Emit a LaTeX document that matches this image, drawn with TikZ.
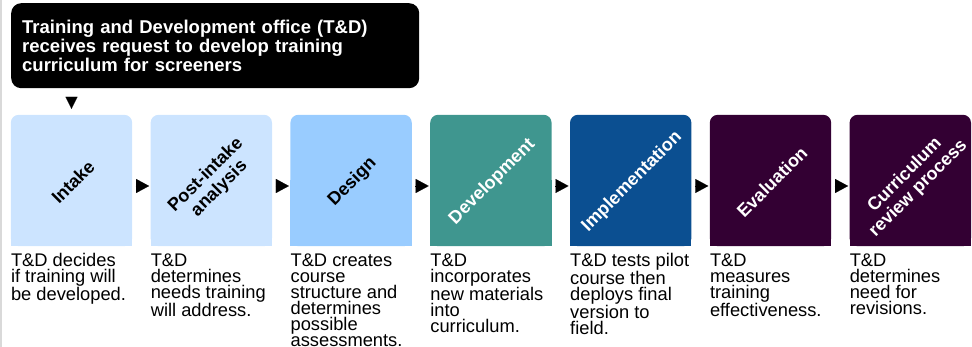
\documentclass[tikz,border=0pt]{standalone}
\usepackage{fontspec}
\setmainfont{Liberation Sans}
\usepackage{tikz}
\usetikzlibrary{arrows.meta,positioning}

\definecolor{intakeblue}{RGB}{204,228,255}
\definecolor{designblue}{RGB}{153,204,255}
\definecolor{devteal}{RGB}{63,150,143}
\definecolor{implblue}{RGB}{11,79,145}
\definecolor{evalpurple}{RGB}{51,0,51}
\definecolor{edgegray}{RGB}{217,217,217}

\begin{document}
\begin{tikzpicture}[x=1pt, y=1pt, node distance=18.4pt,
  stage/.style = {shape=rectangle, minimum width=121pt, minimum height=131pt, inner sep=0pt},
  stagename/.style = {rotate=45, yshift=-2pt, align=center, font=\fontsize{18}{19}\selectfont\bfseries},
  task/.style = {align=left, inner sep=0pt, font=\fontsize{18.3}{16}\selectfont},
  next/.style = {-{Triangle[length=13pt,width=14pt]}, line width=0.1pt,
    shorten <=3.5pt, shorten >=1.5pt}]

  \useasboundingbox (0,0) rectangle (972,347);
  \fill[edgegray] (0,0) rectangle (2,347);

  % request box
  \node[shape=rectangle, rounded corners=10pt, fill=black, text=white, anchor=north west,
    minimum width=408pt, minimum height=85pt, text width=386pt, inner xsep=11pt,
    align=left, font=\fontsize{18.5}{19}\selectfont\bfseries] (request) at (11,344)
    {Training and Development office (T\&D)\\ receives request to develop training\\ curriculum for screeners};

  % stages
  \node[stage] (intake) at (71.5,166.5) {};
  \node[stage, right=of intake] (analysis) {};
  \node[stage, right=of analysis] (design) {};
  \node[stage, right=of design] (development) {};
  \node[stage, right=of development] (implementation) {};
  \node[stage, right=of implementation] (evaluation) {};
  \node[stage, right=of evaluation] (review) {};

  \foreach \s/\c in {intake/intakeblue, analysis/intakeblue, design/designblue,
      development/devteal, implementation/implblue, evaluation/evalpurple, review/evalpurple} {
    \fill[\c, rounded corners=8pt] (\s.south west) rectangle (\s.north east);
    \fill[\c] (\s.south west) rectangle (\s.east);
  }

  \node[stagename] (intake-name) at (intake) {Intake};
  \node[stagename] (analysis-name) at (analysis) {Post-intake\\ analysis};
  \node[stagename] (design-name) at (design) {Design};
  \node[stagename, text=white] (development-name) at (development) {Development};
  \node[stagename, text=white] (implementation-name) at (implementation) {Implementation};
  \node[stagename, text=white] (evaluation-name) at (evaluation) {Evaluation};
  \node[stagename, text=white] (review-name) at (review) {Curriculum\\ review process};

  % what T&D does
  \node[task, below right=7pt and 0pt of intake.south west] (intake-task)
    {T\&D decides\\ if training will\\ be developed.};
  \node[task, below right=7pt and 0pt of analysis.south west] (analysis-task)
    {T\&D\\ determines\\ needs training\\ will address.};
  \node[task, below right=7pt and 0pt of design.south west] (design-task)
    {T\&D creates\\ course\\ structure and\\ determines\\ possible\\ assessments.};
  \node[task, below right=7pt and 0pt of development.south west] (development-task)
    {T\&D\\ incorporates\\ new materials\\ into\\ curriculum.};
  \node[task, below right=7pt and 0pt of implementation.south west] (implementation-task)
    {T\&D tests pilot\\ course then\\ deploys final\\ version to\\ field.};
  \node[task, below right=7pt and 0pt of evaluation.south west] (evaluation-task)
    {T\&D\\ measures\\ training\\ effectiveness.};
  \node[task, below right=7pt and 0pt of review.south west] (review-task)
    {T\&D\\ determines\\ need for\\ revisions.};

  % arrows
  \draw[-{Triangle[length=12pt,width=12pt]}, line width=0.1pt, shorten <=9pt, shorten >=6pt]
    (request.south -| intake.north) -- (intake.north);
  \foreach \a/\b in {intake/analysis, analysis/design, design/development,
      development/implementation, implementation/evaluation, evaluation/review}
    \draw[next] ([yshift=-5.5pt]\a.east) -- ([yshift=-5.5pt]\b.west);

\end{tikzpicture}
\end{document}
